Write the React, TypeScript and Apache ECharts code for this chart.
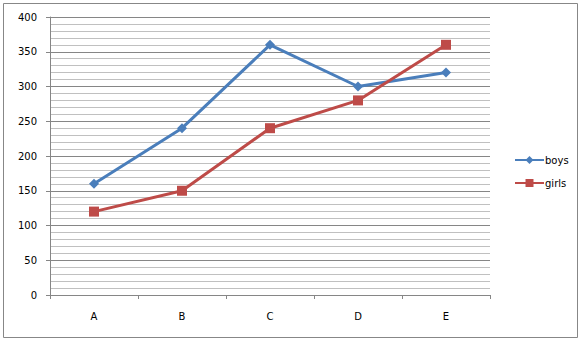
import React, { useEffect, useRef } from "react";
import * as echarts from "echarts";

const categories = ["A", "B", "C", "D", "E"];
const boys = [160, 240, 360, 300, 320];
const girls = [120, 150, 240, 280, 360];
const yTicks = [0, 50, 100, 150, 200, 250, 300, 350, 400];

export default function App() {
  const ref = useRef<HTMLDivElement>(null);
  useEffect(() => {
    const chart = echarts.init(ref.current!, undefined, { renderer: "svg" });
    const font = "DejaVu Sans";
    chart.setOption({
      animation: false,
      textStyle: { fontFamily: font },
      graphic: [
        {
          type: "rect",
          shape: { x: 3.5, y: 3.5, width: 574, height: 334 },
          style: { fill: "none", stroke: "#878787", lineWidth: 1 },
        },
      ],
      grid: { left: 50, top: 17, width: 440, height: 278, containLabel: false },
      legend: {
        orient: "vertical",
        left: 509,
        top: 150,
        itemWidth: 29,
        itemHeight: 10,
        itemGap: 13,
        textStyle: { fontFamily: font, fontSize: 10, color: "#000", padding: [0, 0, 0, -4] },
        data: ["boys", "girls"],
      },
      xAxis: {
        type: "category",
        data: categories,
        boundaryGap: true,
        axisLine: { lineStyle: { color: "#868686" } },
        axisTick: { show: true, length: 4, lineStyle: { color: "#868686" } },
        axisLabel: { fontFamily: font, fontSize: 10, color: "#000", margin: 16 },
      },
      yAxis: {
        type: "value",
        min: 0,
        max: 400,
        interval: 50,
        axisLine: { show: true, lineStyle: { color: "#868686" } },
        axisTick: { show: true, length: 4, lineStyle: { color: "#868686" } },
        axisLabel: {
          fontFamily: font,
          fontSize: 10,
          color: "#000",
          margin: 13,
          formatter: (v: number) => (yTicks.includes(v) ? String(v) : ""),
        },
        splitLine: { show: true, lineStyle: { color: "#868686", width: 1 } },
        minorTick: { show: false, splitNumber: 5 },
        minorSplitLine: { show: true, lineStyle: { color: "#c0c0c0", width: 1 } },
      },
      series: [
        {
          name: "boys",
          type: "line",
          data: boys,
          symbol: "diamond",
          symbolSize: 10,
          lineStyle: { color: "#4a7ebb", width: 3 },
          itemStyle: { color: "#4a7ebb" },
        },
        {
          name: "girls",
          type: "line",
          data: girls,
          symbol: "rect",
          symbolSize: 10,
          lineStyle: { color: "#be4b48", width: 3 },
          itemStyle: { color: "#be4b48" },
        },
      ],
    });
    return () => chart.dispose();
  }, []);
  return (
    <div
      ref={ref}
      style={{ position: "absolute", left: 0, top: 0, width: 581, height: 341, background: "#fff" }}
    />
  );
}
